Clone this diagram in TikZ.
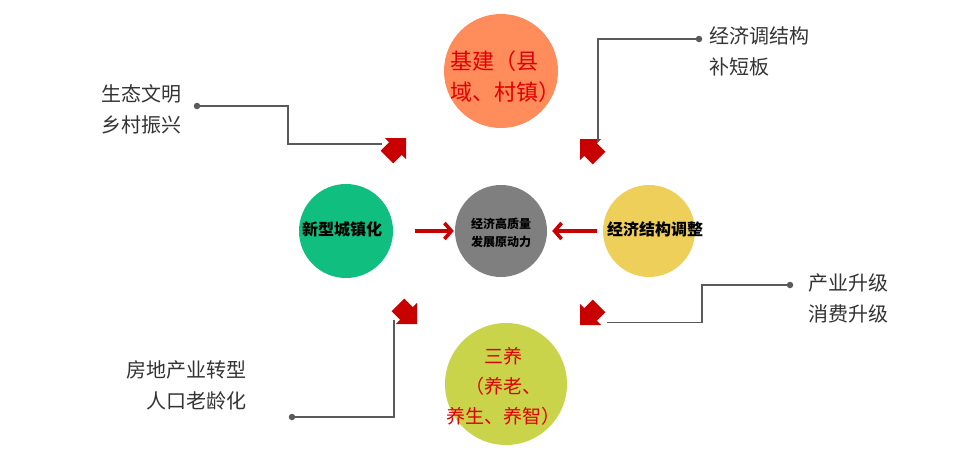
\documentclass[tikz,border=0pt]{standalone}
\usepackage{fontspec}
\newfontfamily\cjk{Noto Sans CJK SC}
\usetikzlibrary{arrows.meta}
\definecolor{corange}{HTML}{FF8C5A}
\definecolor{cgreen}{HTML}{10BF80}
\definecolor{cgray}{HTML}{7F7F7F}
\definecolor{cyellow}{HTML}{EDCF5A}
\definecolor{colive}{HTML}{C9D44B}
\definecolor{cred}{HTML}{E00000}
\definecolor{arrowred}{HTML}{C80000}
\definecolor{linegray}{HTML}{5A5A5A}
\definecolor{txtgray}{HTML}{333333}
\tikzset{
  ball/.style={circle, inner sep=0pt, draw=none},
  redtxt/.style={text=cred, inner sep=0pt, font=\cjk\fontsize{22}{31}\selectfont},
  boldtxt/.style={text=black, inner sep=0pt, font=\cjk\bfseries\fontsize{16}{20}\selectfont},
  calltxt/.style={text=txtgray, inner sep=0pt, font=\cjk\fontsize{20}{31}\selectfont},
  dotnode/.style={circle, fill=linegray, inner sep=0pt, minimum size=6.5pt},
  conn/.style={draw=linegray, line width=1.2pt},
  redarrow/.style={draw=arrowred, line width=3.6pt, -{Straight Barb[length=7pt,width=16pt,line width=3.6pt]}},
  blockarrow/.pic={\fill[arrowred] (0,0) -- (-15,15) -- (-15,9) -- (-27,9) -- (-27,-9) -- (-15,-9) -- (-15,-15) -- cycle;}
}
\begin{document}
\begin{tikzpicture}[x=1pt,y=-1pt]
\useasboundingbox (0,0) rectangle (955,450);
% circles
\node[ball, fill=corange, minimum size=114pt] (jijian) at (501,71) {};
\node[ball, fill=colive, minimum size=122pt] (sanyang) at (506,384) {};
\node[ball, fill=cgreen, minimum size=94pt] (xinxing) at (346,231) {};
\node[ball, fill=cgray, minimum size=92pt] (center) at (501,231) {};
\node[ball, fill=cyellow, minimum size=92pt] (jiegou) at (649,231) {};
% circle texts
\node[redtxt, align=left] (jijiant) at (505,77) {基建（县\\域、村镇）};
\node[redtxt, align=center, font=\cjk\fontsize{19}{30}\selectfont] (sanyangt) at (503,386) {三养\\（养老、\\养生、养智）};
\node[boldtxt] (xinxingt) at (342,229) {新型城镇化};
\node[boldtxt, align=center, font=\cjk\bfseries\fontsize{12}{18}\selectfont] (centert) at (501,233) {经济高质量\\发展原动力};
\node[boldtxt] (jiegout) at (655,229) {经济结构调整};
% horizontal arrows
\draw[redarrow, shorten <=22pt, shorten >=1pt] (xinxing) -- (center);
\draw[redarrow, shorten <=6pt, shorten >=5pt] (jiegou) -- (center);
% block arrows
\pic[rotate=45] at (406,138) {blockarrow};
\pic[rotate=135] at (580,139) {blockarrow};
\pic[rotate=-45] at (417,324) {blockarrow};
\pic[rotate=-135] at (580,325) {blockarrow};
% connector ends
\coordinate (a1) at (382,144);
\coordinate (a2) at (598,142);
\coordinate (a3) at (607,322.5);
\coordinate (a4) at (394,320);
% callout texts
\node[calltxt, align=left, anchor=west] (shengtai) at (101,109) {生态文明\\乡村振兴};
\node[calltxt, align=left, anchor=west] (tiaojiegou) at (709,51) {经济调结构\\补短板};
\node[calltxt, align=left, anchor=west] (chanye) at (808,298) {产业升级\\消费升级};
\node[calltxt, align=right, anchor=east] (fangdi) at (247,385) {房地产业转型\\人口老龄化};
% dots
\node[dotnode] (d1) at (197,106) {};
\node[dotnode] (d2) at (699,39) {};
\node[dotnode] (d3) at (790,285) {};
\node[dotnode] (d4) at (292,417) {};
% connectors
\draw[conn] (d1.center) -- (288,106) |- (a1);
\draw[conn] (d2.center) -| (a2);
\draw[conn] (d3.center) -- (702,285) |- (a3);
\draw[conn] (d4.center) -| (a4);
\end{tikzpicture}
\end{document}
